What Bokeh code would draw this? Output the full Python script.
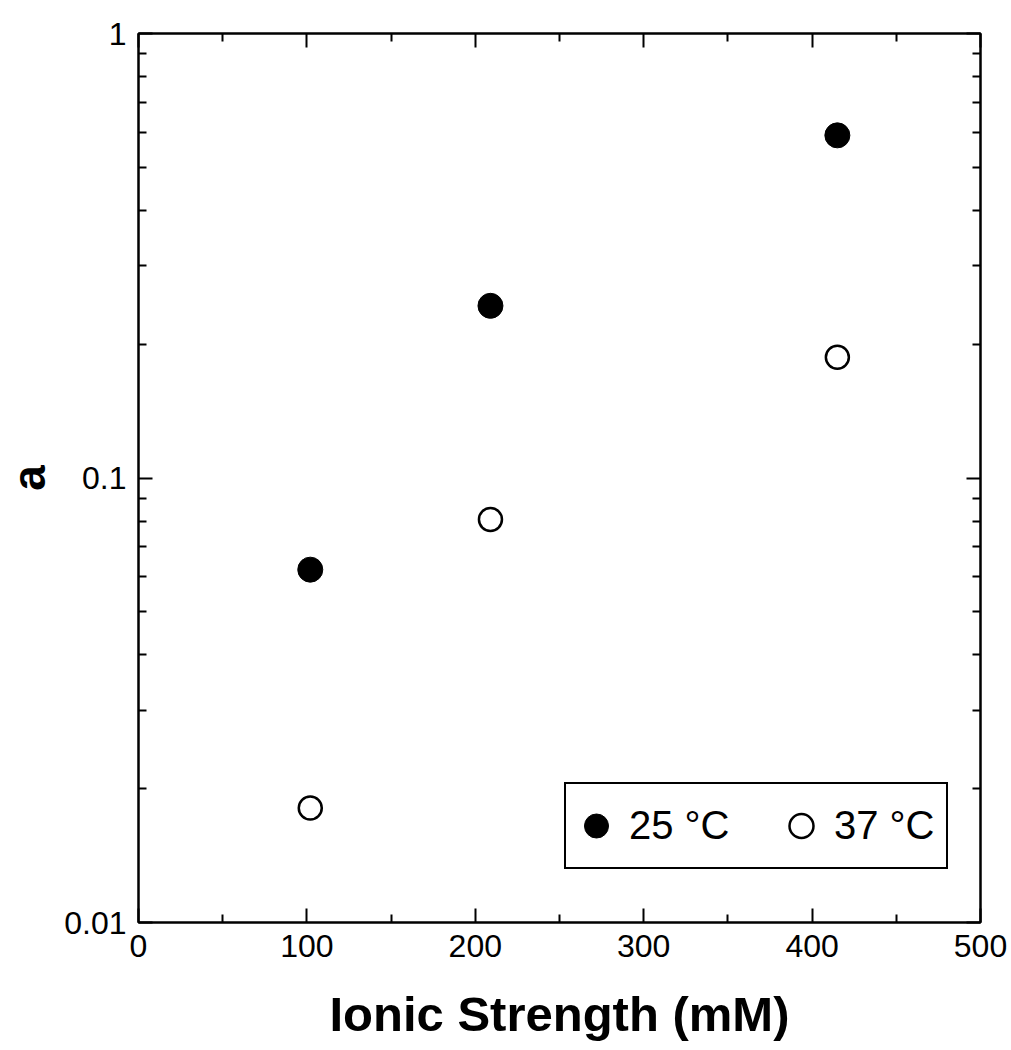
from bokeh.plotting import figure
from bokeh.models import (FixedTicker, LinearAxis, LogAxis, Legend, LegendItem,
                          CustomJSTickFormatter, Range1d)
from bokeh.embed import file_html
from bokeh.resources import INLINE

# data
ionic_strength = [102, 209, 415]
a_25C = [0.0622, 0.244, 0.59]
a_37C = [0.0181, 0.0807, 0.187]

x_ticks = [0, 100, 200, 300, 400, 500]
x_minor = [50, 150, 250, 350, 450]
y_ticks = [0.01, 0.1, 1]
y_minor = [m * d for d in (0.01, 0.1) for m in range(2, 10)]

FONT = "Liberation Sans"

p = figure(frame_width=842, frame_height=889, y_axis_type="log",
           x_range=Range1d(0, 500), y_range=Range1d(0.01, 1),
           output_backend="svg", toolbar_location=None,
           min_border_left=138, min_border_right=31, min_border_top=33,
           min_border_bottom=126, background_fill_color="white",
           border_fill_color="white")
p.grid.visible = False
p.outline_line_color = "black"
p.outline_line_width = 2


def style(ax, labels=True):
    ax.axis_line_width = 2
    ax.axis_line_color = "black"
    ax.major_tick_in = 14
    ax.major_tick_out = 0
    ax.minor_tick_in = 8
    ax.minor_tick_out = 0
    ax.major_tick_line_width = 2
    ax.minor_tick_line_width = 2
    ax.major_tick_line_color = "black"
    ax.minor_tick_line_color = "black"
    ax.major_label_text_font = FONT
    ax.major_label_text_font_size = "32px" if labels else "8px"
    ax.major_label_text_color = "black"
    if not labels:
        ax.major_label_text_alpha = 0
        ax.major_label_standoff = 0
    ax.axis_label_text_font = FONT
    ax.axis_label_text_font_style = "bold"
    ax.axis_label_text_color = "black"


xt = FixedTicker(ticks=x_ticks, minor_ticks=x_minor)
yt = FixedTicker(ticks=y_ticks, minor_ticks=y_minor)
yfmt = CustomJSTickFormatter(code="return tick.toString();")

xa = p.xaxis[0]
xa.ticker = xt
style(xa)
xa.major_label_standoff = 12
xa.axis_label = "Ionic Strength (mM)"
xa.axis_label_text_font_size = "49px"
xa.axis_label_standoff = 27

ya = p.yaxis[0]
ya.ticker = yt
ya.formatter = yfmt
style(ya)
ya.major_label_standoff = 12
ya.axis_label = "a"
ya.axis_label_text_font_size = "46px"
ya.axis_label_standoff = 6

top = LinearAxis(ticker=FixedTicker(ticks=x_ticks, minor_ticks=x_minor))
style(top, labels=False)
p.add_layout(top, "above")
right = LogAxis(ticker=FixedTicker(ticks=y_ticks, minor_ticks=y_minor),
                formatter=CustomJSTickFormatter(code="return tick.toString();"))
style(right, labels=False)
p.add_layout(right, "right")

r25 = p.scatter(ionic_strength, a_25C, size=25, marker="circle",
                fill_color="black", line_color="black")
r37 = p.scatter(ionic_strength, a_37C, size=23, marker="circle",
                fill_color="white", line_color="black", line_width=2.5)

legend = Legend(items=[LegendItem(label="25 °C", renderers=[r25]),
                       LegendItem(label="37 °C", renderers=[r37])],
                orientation="horizontal", location=(426, 53),
                glyph_width=60, glyph_height=83, label_standoff=3,
                label_width=112, spacing=30, padding=0, margin=0,
                label_text_font=FONT, label_text_font_size="40px",
                label_text_color="black",
                border_line_color="black", border_line_width=2,
                border_line_alpha=1,
                background_fill_alpha=1, background_fill_color="white")
p.add_layout(legend, "center")

open("out.html", "w").write(file_html(p, INLINE))
